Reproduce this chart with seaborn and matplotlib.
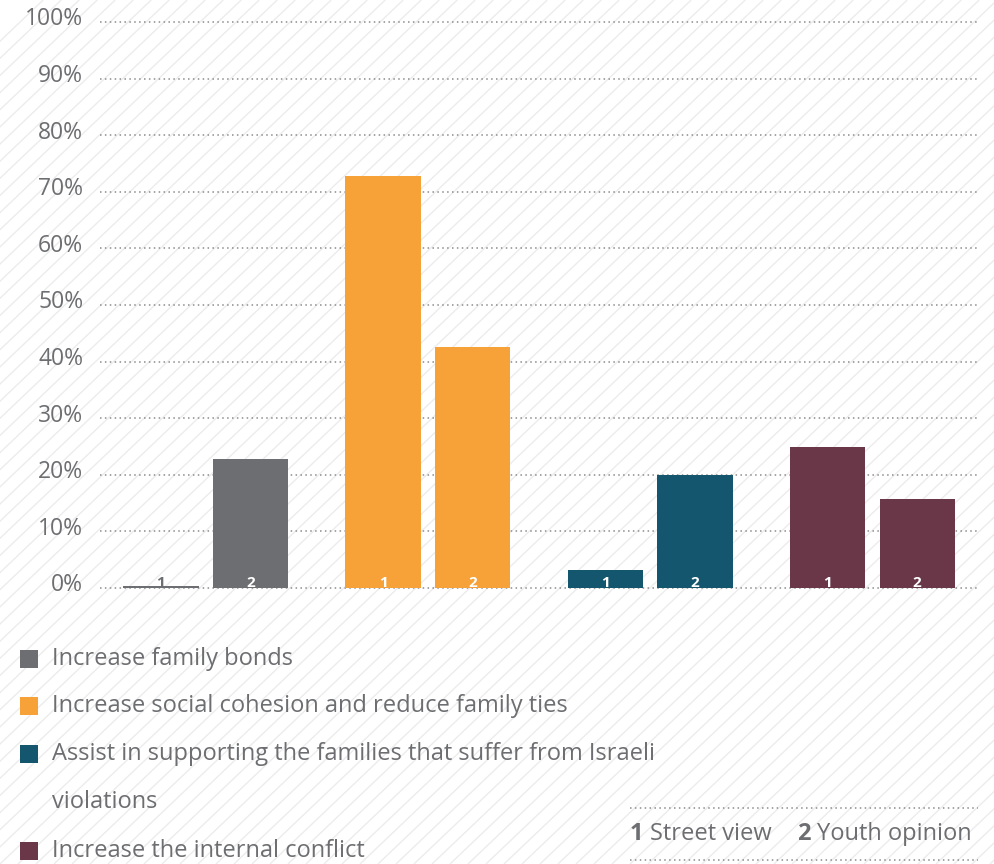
import matplotlib.pyplot as plt
import matplotlib.transforms as mtrans
import numpy as np
import pandas as pd
import seaborn as sns
from matplotlib.collections import LineCollection
from matplotlib.patches import Rectangle
from matplotlib.lines import Line2D

# data
categories = ["Increase family bonds",
              "Increase social cohesion and reduce family ties",
              "Assist in supporting the families that suffer from Israeli\nviolations",
              "Increase the internal conflict"]
street_view = [0.4, 72.8, 3.2, 24.9]
youth_opinion = [22.8, 42.6, 20.0, 15.7]
series_keys = ["1", "2"]
series_names = ["Street view", "Youth opinion"]
colors = ["#6d6e71", "#f7a239", "#14566e", "#6a3749"]
yticks = list(range(0, 101, 10))

W, H = 994, 864
TXT = "#6d6e71"

sns.set_style("white")
plt.rcParams["font.family"] = ["Open Sans", "DejaVu Sans"]

df = pd.DataFrame({
    "category": categories * 2,
    "view": [series_keys[0]] * 4 + [series_keys[1]] * 4,
    "value": street_view + youth_opinion,
})

fig = plt.figure(figsize=(W / 100, H / 100), dpi=100)
fig.patch.set_facecolor("white")


def fx(px):
    return px / W


def fy(py):
    return 1 - py / H


# diagonal hatch background
segs = []
for c in np.arange(-H, W + 20, 18):
    segs.append([(fx(c), 0), (fx(c + H * 1.05), 1)])
fig.add_artist(LineCollection(segs, colors="#ececec", linewidths=1.0,
                              transform=fig.transFigure, zorder=0))

ax = fig.add_axes([fx(100), fy(588), fx(980) - fx(100), fy(22) - fy(588)])
ax.set_facecolor("none")

sns.barplot(data=df, x="category", y="value", hue="view", dodge=True,
            width=0.81, gap=0.165, legend=False, ax=ax, zorder=3,
            saturation=1)

ax.set_xlim(-0.477, 3.486)
ax.set_ylim(0, 100)

for k, cont in enumerate(ax.containers):
    for i, bar in enumerate(cont):
        bar.set_facecolor(colors[i])
        bar.set_edgecolor("none")
        xc = bar.get_x() + bar.get_width() / 2
        tc = "white" if bar.get_height() > 3 else colors[i]
        ax.text(xc, -0.3, series_keys[k], ha="center", va="bottom",
                fontsize=11, fontweight="bold", color=tc, zorder=5)

for v in yticks:
    ax.axhline(v, color="#8c8c8c", lw=1.1, ls=(0, (1, 2.2)), zorder=1,
               clip_on=False)

ax.set_yticks(yticks)
ax.set_yticklabels([f"{v}%" for v in yticks], fontsize=16.5, color=TXT)
ax.tick_params(axis="y", length=0, pad=12)
shift = mtrans.ScaledTranslation(0, 4 / 72, fig.dpi_scale_trans)
for lbl in ax.get_yticklabels():
    lbl.set_transform(lbl.get_transform() + shift)
ax.set_xticks([])
ax.set_xlabel("")
ax.set_ylabel("")
for s in ax.spines.values():
    s.set_visible(False)

# category legend
slot_y = [659, 706, 754, 802, 851]
slot = 0
for i, lab in enumerate(categories):
    fig.add_artist(Rectangle((fx(20), fy(slot_y[slot] + 9)), fx(18), fy(0) - fy(18),
                             transform=fig.transFigure, color=colors[i], lw=0))
    for line in lab.split("\n"):
        fig.text(fx(52), fy(slot_y[slot]), line, ha="left", va="center",
                 fontsize=17, color=TXT)
        slot += 1

# series key box
for yy in (808, 860):
    fig.add_artist(Line2D([fx(630), fx(978)], [fy(yy), fy(yy)], color="#8c8c8c",
                          lw=1.1, ls=(0, (1, 2.2)), transform=fig.transFigure))
kx = [630, 797]
for j in range(2):
    fig.text(fx(kx[j]), fy(834), series_keys[j], ha="left", va="center",
             fontsize=17, fontweight="bold", color=TXT)
    fig.text(fx(kx[j] + 20), fy(834), series_names[j], ha="left", va="center",
             fontsize=17, color=TXT)

fig.savefig("out.png", dpi=100)
